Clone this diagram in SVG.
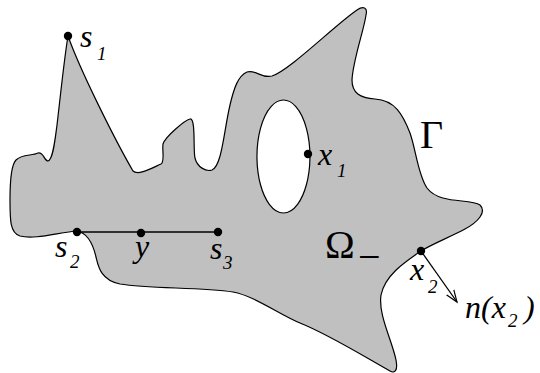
<svg xmlns="http://www.w3.org/2000/svg" width="540" height="373" viewBox="0 0 540 373">
<style>
.region{fill:#c0c0c0;stroke:#000;stroke-width:1.2;fill-rule:evenodd}
.dot{fill:#000}
.seg{stroke:#000;stroke-width:1.3;fill:none}
.it{font-family:"Liberation Serif","Times New Roman",serif;font-style:italic;font-size:32px;fill:#000}
.sub{font-size:19px}
.up{font-family:"Liberation Serif","Times New Roman",serif;font-size:40px;fill:#000}
</style>
<defs>
<marker id="vhead" markerWidth="14" markerHeight="12" refX="12" refY="6" orient="auto" markerUnits="userSpaceOnUse">
<path d="M0,1.5 L12,6 L0,10.5" fill="none" stroke="#000" stroke-width="1.2"/>
</marker>
</defs>
<g id="domain">
<path class="region" d="M68,36
C 80,70 115,140 133,171
C 138,176 152,168 161,164
C 165,162 162,150 163,144
C 165,137 185,120 190,119
C 196,118 193,150 195,158
C 197,167 206,172 212,170
C 222,166 224,130 230,105
C 234,88 238,76 247,72
C 255,69 262,79 272,76
C 290,70 335,25 357,10
C 363,6 368,7 366,15
C 364,30 353,60 352,80
C 352,93 360,98 375,99
C 395,100 403,115 410,133
C 416,150 418,175 427,188
C 440,205 470,198 480,205
C 487,212 478,222 465,229
C 450,237 430,245 421,251
C 405,262 385,275 381,295
C 378,315 392,340 396,360
C 398,370 395,374 390,371
C 370,360 330,335 300,323
C 280,315 255,296 233,292
C 200,287 150,289 120,284
C 100,280 98,265 96,257
C 93,244 88,233 77,231
C 60,232 35,240 20,236
C 10,233 10,220 10,200
C 10,180 11,165 16,160
C 22,154 32,156 38,153
C 44,152 44,161 48,161
C 53,160 55,140 57,125
C 60,100 64,60 68,36 Z
M283.5,100 A26.5,56.5 0 1 1 283.4,100 Z"/>
</g>
<g id="connectors">
<line class="seg" x1="77" y1="232" x2="218" y2="232"/>
<line class="seg" x1="421" y1="251" x2="457" y2="302" stroke-width="1.1" marker-end="url(#vhead)"/>
</g>
<g id="s1"><circle class="dot" cx="68" cy="36" r="4.2"/><text class="it" x="80" y="47">s</text><text class="it sub" x="97" y="60">1</text></g>
<g id="x1"><circle class="dot" cx="308" cy="154" r="4.2"/><text class="it" x="318" y="165">x</text><text class="it sub" x="337" y="177">1</text></g>
<g id="s2"><circle class="dot" cx="77" cy="232" r="4.2"/><text class="it" x="55" y="257">s</text><text class="it sub" x="70" y="268">2</text></g>
<g id="y"><circle class="dot" cx="141" cy="233" r="4.2"/><text class="it" x="135" y="257">y</text></g>
<g id="s3"><circle class="dot" cx="218" cy="232" r="4.2"/><text class="it" x="210" y="259">s</text><text class="it sub" x="223" y="269">3</text></g>
<g id="x2"><circle class="dot" cx="421" cy="251" r="4.2"/><text class="it" x="410" y="280">x</text><text class="it sub" x="428" y="293">2</text></g>
<g id="normal"><text class="it" x="465" y="318">n(x</text><text class="it sub" x="508" y="327">2</text><text class="it" x="524" y="318">)</text></g>
<g id="omega"><text class="up" x="325" y="258">Ω</text><text class="up" x="358" y="270" font-size="24">−</text></g>
<g id="gamma"><text class="up" x="420" y="148">Γ</text></g>
</svg>
